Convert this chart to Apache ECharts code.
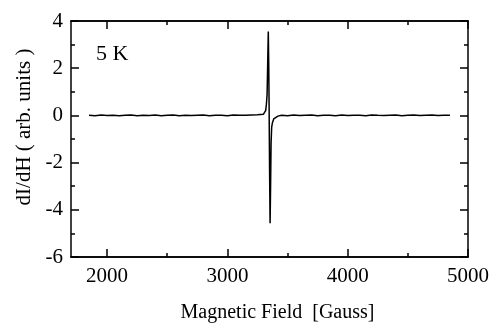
<!DOCTYPE html>
<html>
<head>
<meta charset="utf-8">
<script src="https://cdn.jsdelivr.net/npm/echarts@6/dist/echarts.min.js"></script>
<style>
  html, body { margin: 0; padding: 0; background: #fff; }
  #esr { width: 491px; height: 323px; }
</style>
</head>
<body>
<div id="esr"></div>
<script>
 // ESR spectrum at 5 K
 var field = [
     1850, 1900, 1950, 2000, 2050, 2100, 2150, 2200, 2250, 2300,
     2350, 2400, 2450, 2500, 2550, 2600, 2650, 2700, 2750, 2800,
     2850, 2900, 2950, 3000, 3050, 3100, 3150, 3200, 3250, 3300,
     3310, 3318, 3324, 3330, 3335, 3340, 3344, 3347, 3351, 3355,
     3359, 3363, 3368, 3375, 3385, 3400, 3420,
     3450, 3500, 3550, 3600, 3650, 3700, 3750, 3800, 3850, 3900,
     3950, 4000, 4050, 4100, 4150, 4200, 4250, 4300, 4350, 4400,
     4450, 4500, 4550, 4600, 4650, 4700, 4750, 4800, 4850
 ];
 var signal = [
     0.01, -0.01, 0.015, 0, 0.01, -0.015, 0.005, 0.015, -0.01, 0.01,
     0, 0.015, -0.01, 0.005, 0.015, -0.01, 0.01, 0, 0.01, 0.02,
     -0.01, 0.01, 0.005, -0.01, 0.015, 0.005, 0.01, 0.02, 0.03, 0.05,
     0.08, 0.2, 0.45, 0.9, 2.2, 3.55, 2.0, 0.2, -2.5, -4.57,
     -3.0, -1.2, -0.5, -0.3, -0.15, -0.08, -0.03,
     0.005, -0.01, 0.015, 0, 0.01, 0.015, -0.01, 0.005, 0.01, -0.01,
     0.015, 0, 0.01, 0.005, -0.01, 0.015, 0.005, 0, 0.01, 0.015,
     -0.01, 0.005, 0.015, 0, 0.01, 0.015, 0, 0.01, 0.005
 ];
 var xMajor = [2000, 3000, 4000, 5000];
 var xMinor = [2500, 3500, 4500];

 var serif = 'Liberation Serif';
 var points = field.map(function (f, i) { return [f, signal[i]]; });

 function xAxisOf(pos, ticks, len, labels) {
     return {
         type: 'value',
         position: pos,
         min: 1700,
         max: 5000,
         splitLine: { show: false },
         axisLine: { show: true, onZero: false, lineStyle: { color: '#000', width: 1.5 } },
         axisTick: { show: true, inside: true, length: len, customValues: ticks,
             lineStyle: { color: '#000', width: 1.5 } },
         axisLabel: labels ? {
             show: true, customValues: ticks, margin: 9,
             formatter: function (v) { return String(v); },
             fontFamily: serif, fontSize: 21, color: '#000'
         } : { show: false }
     };
 }
 function yAxisOf(pos, labels) {
     return {
         type: 'value',
         position: pos,
         min: -6,
         max: 4,
         interval: 2,
         splitLine: { show: false },
         axisLine: { show: true, onZero: false, lineStyle: { color: '#000', width: 1.5 } },
         axisTick: { show: true, inside: true, length: 8, lineStyle: { color: '#000', width: 1.5 } },
         minorTick: { show: true, splitNumber: 2, length: 4, lineStyle: { color: '#000', width: 1.5 } },
         axisLabel: labels ? {
             show: true, margin: 8,
             fontFamily: serif, fontSize: 21, color: '#000'
         } : { show: false }
     };
 }

 var chart = echarts.init(document.getElementById('esr'));
 var xBottom = xAxisOf('bottom', xMajor, 8, true);
 xBottom.name = 'Magnetic Field  [Gauss]';
 xBottom.nameLocation = 'middle';
 xBottom.nameGap = 46;
 xBottom.nameTextStyle = { fontFamily: serif, fontSize: 20, color: '#000', padding: [0, 0, 0, 16] };
 var yLeft = yAxisOf('left', true);
 yLeft.name = 'dI/dH ( arb. units )';
 yLeft.nameLocation = 'middle';
 yLeft.nameGap = 36;
 yLeft.nameTextStyle = { fontFamily: serif, fontSize: 21, color: '#000', padding: [0, 0, 0, 24] };

 var option = {
     animation: false,
     grid: { left: 71, right: 23, top: 21, bottom: 66, outerBoundsMode: 'none' },
     xAxis: [
         xBottom,
         xAxisOf('bottom', xMinor, 4, false),
         xAxisOf('top', xMajor, 8, false),
         xAxisOf('top', xMinor, 4, false)
     ],
     yAxis: [yLeft, yAxisOf('right', false)],
     graphic: [{
         type: 'text',
         left: 96,
         top: 43,
         style: { text: '5 K', font: '22px "Liberation Serif"', fill: '#000' }
     }],
     series: [{
         type: 'line',
         xAxisIndex: 0,
         yAxisIndex: 0,
         data: points,
         showSymbol: false,
         lineStyle: { color: '#000', width: 1.5 }
     }]
 };
 chart.setOption(option);
</script>
</body>
</html>
